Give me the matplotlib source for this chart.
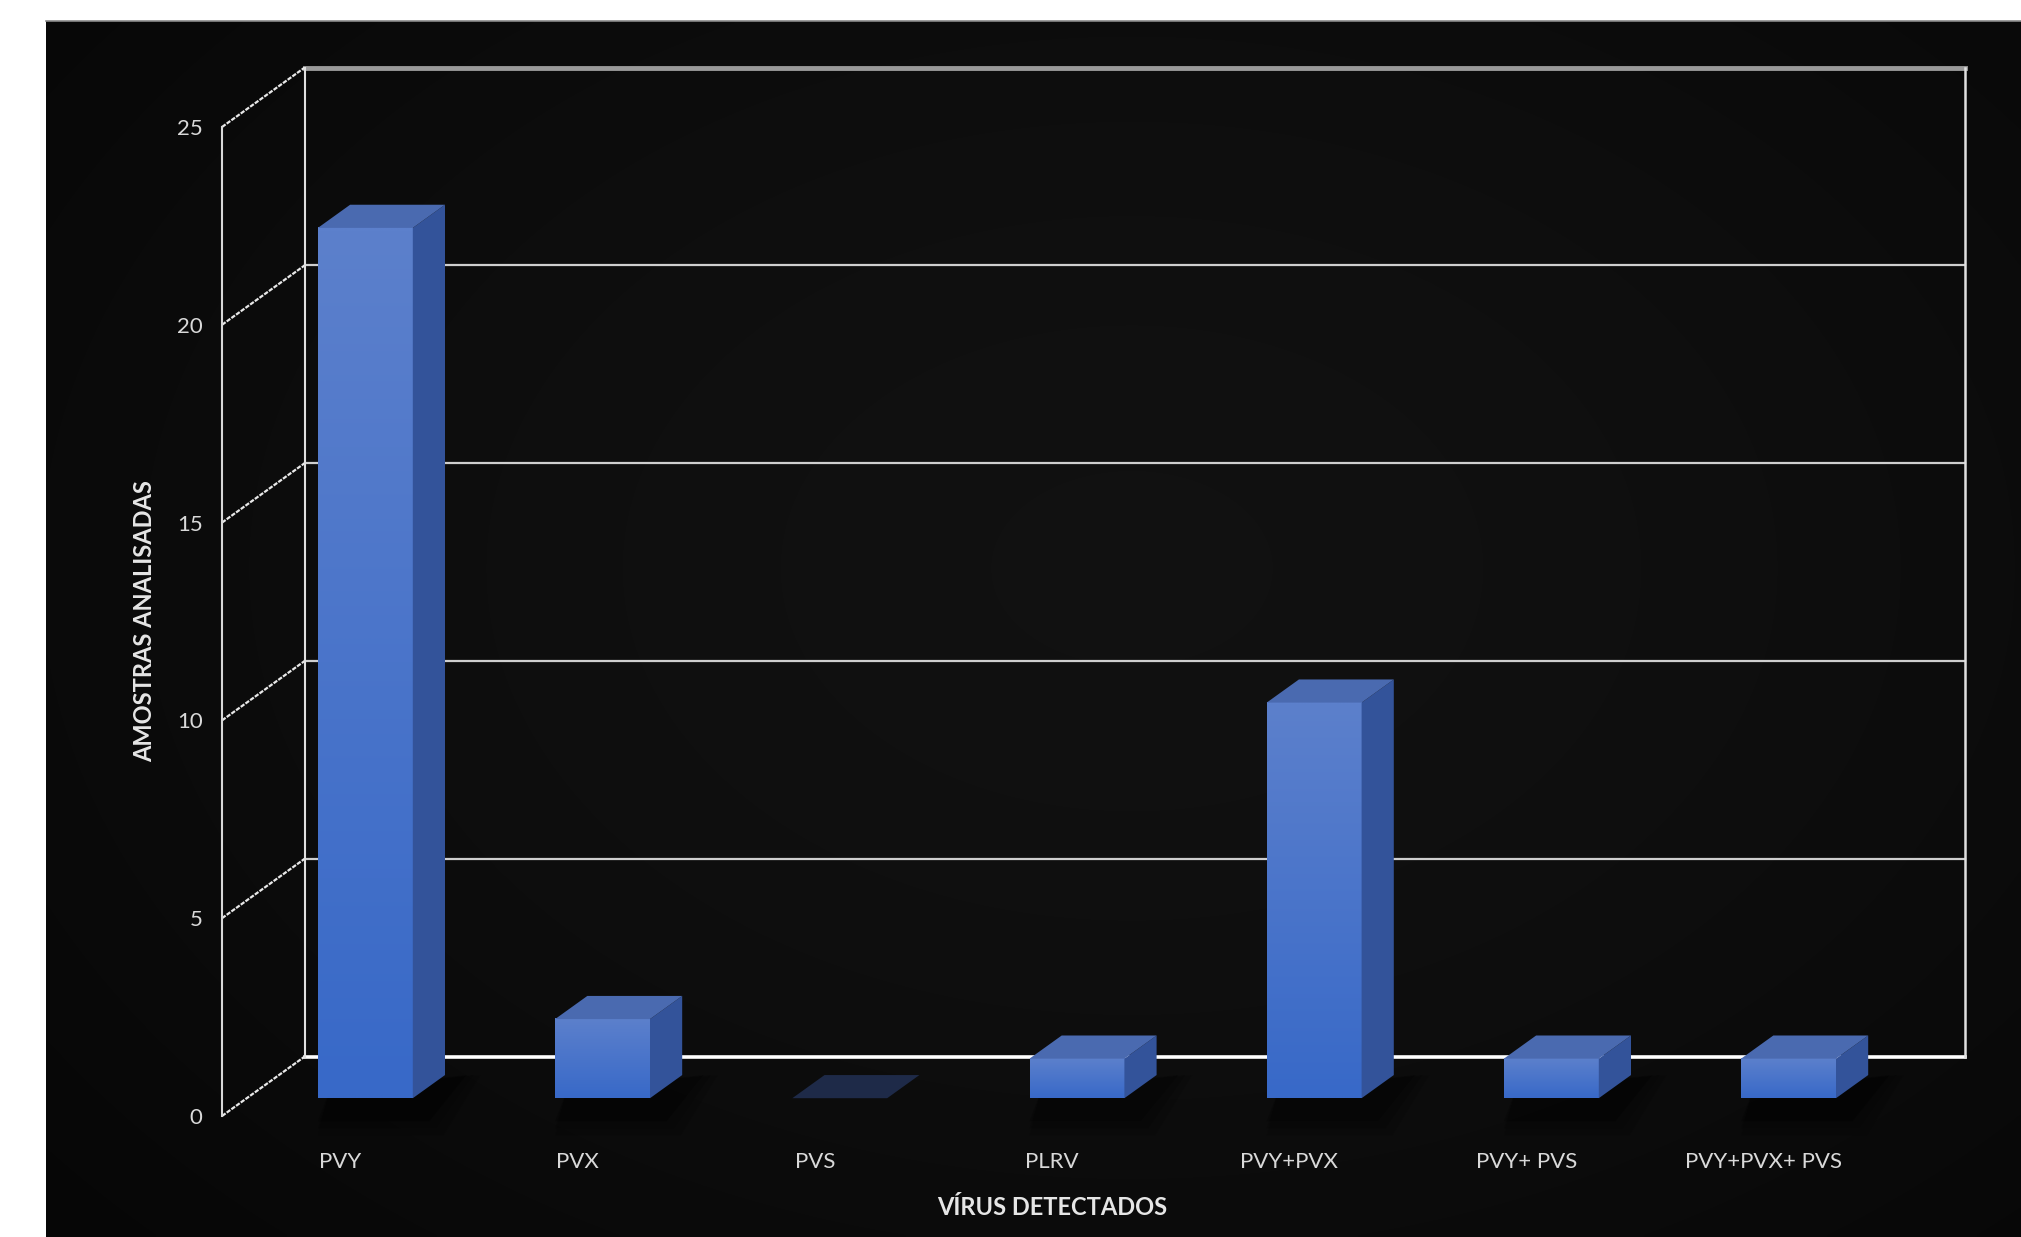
import numpy as np
import matplotlib
matplotlib.use("Agg")
import matplotlib.pyplot as plt
from matplotlib.patches import Polygon

plt.rcParams['font.family'] = ['Lato', 'DejaVu Sans']

# data
categorias = ['PVY', 'PVX', 'PVS', 'PLRV', 'PVY+PVX', 'PVY+ PVS', 'PVY+PVX+ PVS']
amostras = [22, 2, 0, 1, 10, 1, 1]
yticks = [0, 5, 10, 15, 20, 25]

W, H = 2021, 1237
fig = plt.figure(figsize=(W / 100, H / 100), dpi=100)
fig.patch.set_facecolor('white')

# dark background panel with soft gradient
bg = fig.add_axes([46 / W, 0, 1 - 46 / W, (H - 21) / H])
yy, xx = np.mgrid[0:1:300j, 0:1:500j]
r = np.sqrt(((xx - 0.55) / 0.8) ** 2 + ((yy - 0.45) / 0.9) ** 2)
grad = np.clip(0.068 - 0.05 * r ** 1.5, 0.01, 0.075)
bg.imshow(np.dstack([grad] * 3), aspect='auto', extent=(0, 1, 0, 1), interpolation='bilinear')
bg.set_xlim(0, 1)
bg.set_ylim(0, 1)
bg.axis('off')
bg.plot([0, 1], [1, 1], color='#8a8a8a', lw=1.2, transform=bg.transAxes, clip_on=False)

# main axes = front plane of the 3D box
ax = fig.add_axes([222 / W, (H - 1116) / H, 1660.4 / W, 989 / H])
ax.set_facecolor('none')
for s in ax.spines.values():
    s.set_visible(False)

dx, dy = 0.348, 1.5          # depth vector in data units
x0, x1 = -0.5, len(categorias) - 0.5
ymax = 25

# back wall + gridlines
for v in yticks:
    c = '#ffffff' if v == 0 else '#cfcfcf'
    lw = 2.6 if v == 0 else 1.6
    if v == ymax:
        c, lw = '#9a9a9a', 3.5
    ax.plot([x0 + dx, x1 + dx], [v + dy, v + dy], color=c, lw=lw, clip_on=False, zorder=1)
    # side wall diagonals
    ax.plot([x0, x0 + dx], [v, v + dy], color='#e8e8e8', lw=1.6, ls=(0, (2, 0.6)),
            clip_on=False, zorder=1)
ax.plot([x0 + dx, x0 + dx], [dy, ymax + dy], color='#e0e0e0', lw=1.5, clip_on=False, zorder=1)
ax.plot([x1 + dx, x1 + dx], [dy, ymax + dy], color='#e0e0e0', lw=1.8, clip_on=False, zorder=1)
ax.plot([x0, x0], [0, ymax], color='#d8d8d8', lw=1.5, clip_on=False, zorder=1)

# 3D bars
f0, f1 = 0.30, 0.69
bw = 0.2
for i, v in enumerate(amostras):
    lx = i - bw + f0 * dx
    rx = i + bw + f0 * dx
    by = f0 * dy
    if v > 0:
        # soft shadow
        for k, a in enumerate([0.22, 0.15, 0.1]):
            e = 0.03 * (k + 1)
            sh = Polygon([(lx, by - 0.4 - e * 6), (rx + e + 0.04, by - 0.4 - e * 6),
                          (rx + (f1 - f0) * dx + 0.06 + e, by + (f1 - f0) * dy),
                          (lx + 0.05, by + 0.2)],
                         closed=True, facecolor='black', edgecolor='none', alpha=a,
                         clip_on=False, zorder=2)
            ax.add_patch(sh)
        # front face gradient
        g = np.linspace(0, 1, 100)[:, None]
        top = np.array([0x5c, 0x80, 0xcc]) / 255
        bot = np.array([0x38, 0x69, 0xc8]) / 255
        img = (top * (1 - g[..., None]) + bot * g[..., None])
        ax.imshow(np.repeat(img, 2, axis=1), extent=(lx, rx, by, v + by), aspect='auto',
                  clip_on=False, zorder=4, interpolation='bilinear')
        # side face
        side = Polygon([(rx, by), (i + bw + f1 * dx, f1 * dy), (i + bw + f1 * dx, v + f1 * dy),
                        (rx, v + by)], closed=True, facecolor='#33539a', edgecolor='none',
                       clip_on=False, zorder=4)
        ax.add_patch(side)
        topc = '#4a6ab0'
    else:
        topc = '#1e2a48'
    topf = Polygon([(lx, v + by), (rx, v + by), (i + bw + f1 * dx, v + f1 * dy),
                    (i - bw + f1 * dx, v + f1 * dy)], closed=True, facecolor=topc,
                   edgecolor='none', clip_on=False, zorder=4)
    ax.add_patch(topf)

ax.set_xlim(-0.5, len(categorias) - 0.5)
ax.set_ylim(0, 25)

ax.set_xticks(range(len(categorias)))
ax.set_xticklabels(categorias, fontsize=16, color='#d9d9d9')
ax.set_yticks(yticks)
ax.set_yticklabels([str(t) for t in yticks], fontsize=16, color='#d9d9d9')
ax.tick_params(axis='x', length=0, pad=26)
ax.tick_params(axis='y', length=0, pad=14)

ax.set_xlabel('VÍRUS DETECTADOS', fontsize=17, fontweight='bold', color='#e6e6e6', labelpad=17)
ax.set_ylabel('AMOSTRAS ANALISADAS', fontsize=17, fontweight='bold', color='#e6e6e6', labelpad=15)

fig.savefig('out.png', dpi=100, facecolor=fig.get_facecolor())
